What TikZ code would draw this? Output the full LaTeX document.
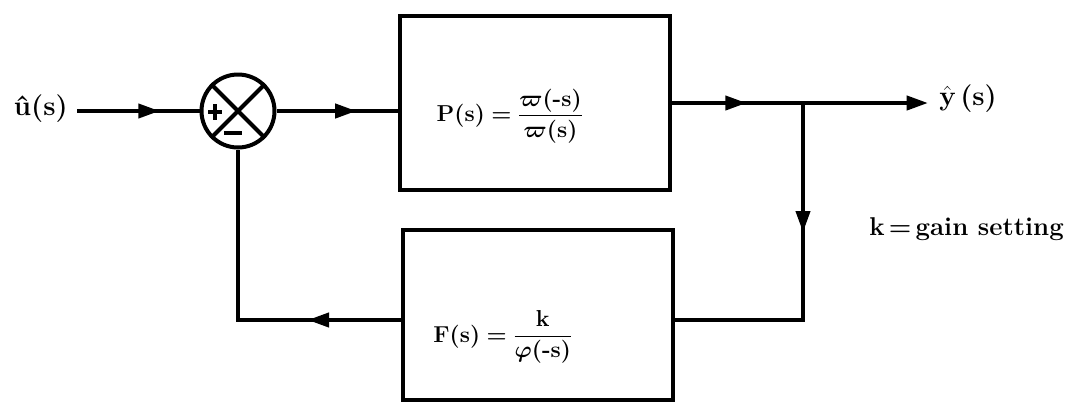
\documentclass[tikz,border=0pt]{standalone}
\usepackage{amsmath}
\usepackage{fontspec}
\usetikzlibrary{arrows.meta,decorations.markings}
\newcommand{\pformula}{$\textbf{P(s)}\boldsymbol{=}\dfrac{\boldsymbol{\varpi}\textbf{(-s)}}{\boldsymbol{\varpi}\textbf{(s)}}$}
\newcommand{\fformula}{$\textbf{F(s)}\boldsymbol{=}\dfrac{\textbf{k}}{\boldsymbol{\varphi}\textbf{(-s)}}$}
\tikzset{
  wire/.style={line width=3pt, line join=miter},
  midarrow/.style={postaction={decorate},
    decoration={markings, mark=at position #1 with {\arrow{Triangle[length=16pt,width=10.5pt]}}}},
  endarrow/.style={-{Triangle[length=16pt,width=10.5pt]}},
  blockbox/.style={draw, line width=3pt, minimum width=202.5pt, inner sep=0pt},
  sumnode/.style={draw, circle, line width=3pt, minimum size=54.75pt, inner sep=0pt},
  lbl/.style={font=\LARGE\bfseries, inner sep=0pt},
  biglbl/.style={font=\huge\bfseries, inner sep=0pt},
  gainlbl/.style={font=\fontsize{19.3}{23}\selectfont\bfseries, inner sep=0pt},
  signline/.style={line width=3.6pt},
}
\begin{document}
\begin{tikzpicture}[x=0.75pt,y=-0.75pt]
\useasboundingbox (0,0) rectangle (1072,405);
% blocks
\node[sumnode] (sum) at (238,111) {};
\draw[wire] (sum.45) -- (sum.225);
\draw[wire] (sum.135) -- (sum.-45);
\draw[signline] ([shift={(-30,1)}]sum.center) -- ([shift={(-16,1)}]sum.center);
\draw[signline] ([shift={(-23,-7)}]sum.center) -- ([shift={(-23,9)}]sum.center);
\draw[signline] ([shift={(-14,22)}]sum.center) -- ([shift={(4,22)}]sum.center);
\node[blockbox, minimum height=130.5pt] (P) at (535,103) {};
\node[blockbox, minimum height=127.5pt] (F) at (538,315) {};
\node[lbl] (Ptext) at (510,116) {\pformula};
\node[lbl] (Ftext) at (503,337) {\fformula};
% labels
\node[biglbl, anchor=east] (ulbl) at (68,109) {\^u(s)};
\node[biglbl, anchor=west] (ylbl) at (939,99) {$\hat{\textbf{y}}\,\textbf{(s)}$};
\node[gainlbl, anchor=west] (gain) at (869,229) {k\,=\,gain setting};
% coordinates
\coordinate (in) at (77,111);
\coordinate (br) at (803,103);
\coordinate (out) at (928,103);
\coordinate (fbr) at (803,320);
\coordinate (fbl) at (238,320);
% connectors
\draw[wire, midarrow=62pt] (in) -- (sum.west);
\draw[wire, midarrow=60pt] (sum.east) -- (sum.east -| P.west);
\draw[wire, midarrow=56pt] (P.east |- br) -- (br);
\draw[wire, endarrow] (br) -- (out);
\draw[wire, midarrow=97pt] (br) -- (fbr) -- (fbr -| F.east);
\draw[wire, midarrow=70pt] (F.west |- fbr) -- (fbl) -- (sum.south);
\end{tikzpicture}
\end{document}
